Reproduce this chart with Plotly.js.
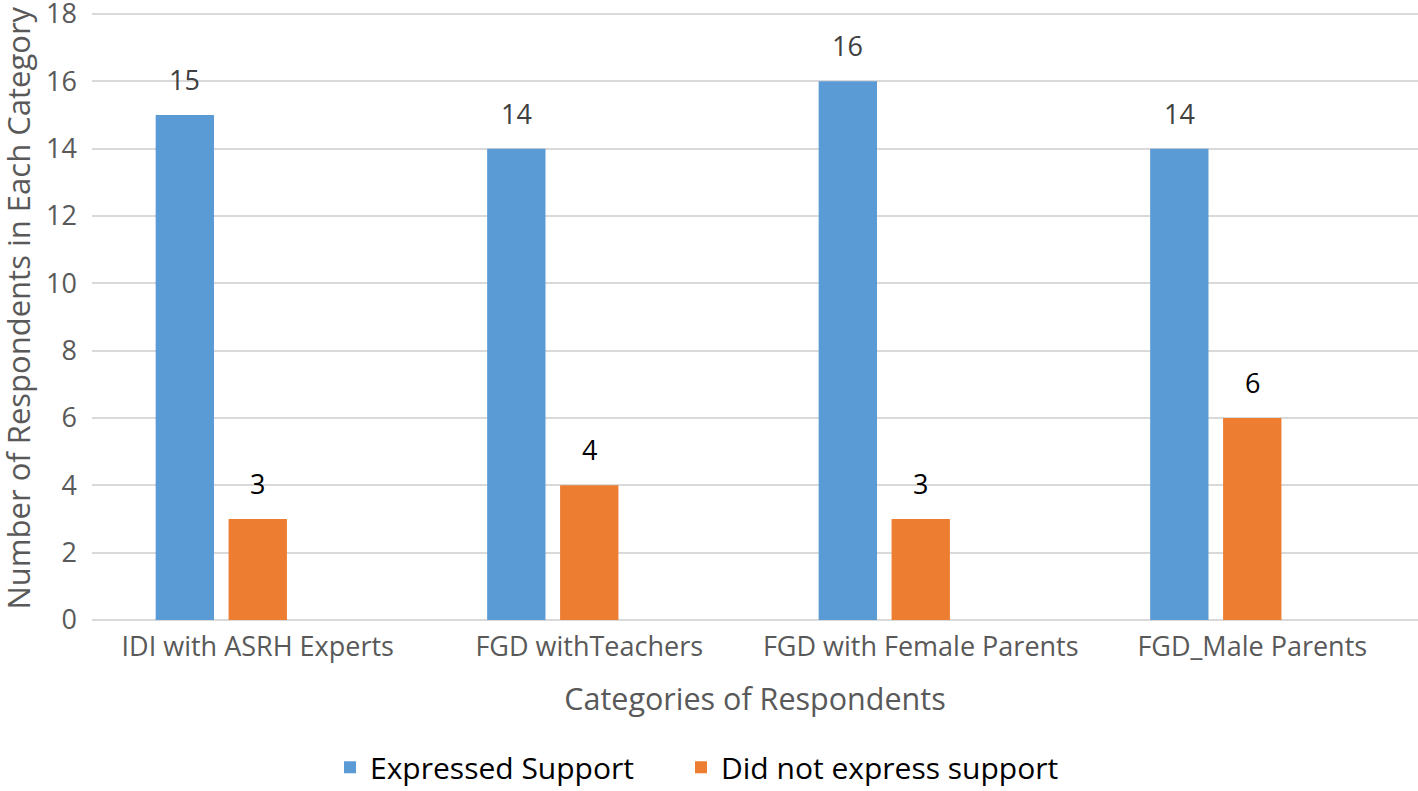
<!DOCTYPE html>
<html>
<head>
<meta charset="utf-8">
<script src="https://cdn.plot.ly/plotly-3.0.1.min.js"></script>
<style>html,body{margin:0;padding:0;background:#fff;}#chart{width:1418px;height:791px;}</style>
</head>
<body>
<div id="chart"></div>
<script>
const categories = ["IDI with ASRH Experts", "FGD withTeachers", "FGD with Female Parents", "FGD_Male Parents"];
const expressedSupport = [15, 14, 16, 14];
const didNotExpress = [3, 4, 3, 6];
const emptySeries = [0, 0, 0, 0];
const yTicks = [0, 2, 4, 6, 8, 10, 12, 14, 16, 18];
const yTitle = "Number of Respondents in Each Category";
const xTitle = "Categories of Respondents";

const FONT = "Open Sans, Noto Sans, sans-serif";
const bargap = 0.34;
const slot = (1 - bargap) / 3;

const traces = [
  {type: "bar", name: "Expressed Support", x: categories, y: expressedSupport,
   marker: {color: "#5B9BD5"}, legend: "legend"},
  {type: "bar", name: "Did not express support", x: categories, y: didNotExpress,
   marker: {color: "#ED7D31"}, legend: "legend2"},
  {type: "bar", name: "", x: categories, y: emptySeries, showlegend: false,
   marker: {color: "rgba(0,0,0,0)"}, hoverinfo: "skip"}
];

const annotations = [];
categories.forEach((c, i) => {
  annotations.push({x: i - slot, y: expressedSupport[i], xref: "x", yref: "y",
    text: String(expressedSupport[i]), showarrow: false, yanchor: "bottom", yshift: 15,
    font: {family: FONT, size: 27, color: "#404040"}});
  annotations.push({x: i, y: didNotExpress[i], xref: "x", yref: "y",
    text: String(didNotExpress[i]), showarrow: false, yanchor: "bottom", yshift: 15,
    font: {family: FONT, size: 27, color: "#000000"}});
});
// y-axis title drawn as rotated text so it can sit at the very left edge like the reference
annotations.push({xref: "paper", yref: "paper", x: -92 / 1326, xanchor: "left", xshift: -6,
  y: 0.5, yanchor: "middle", yshift: 8, textangle: -90, showarrow: false, text: yTitle,
  font: {family: FONT, size: 31, color: "#595959"}});

const legendBase = {orientation: "h", xanchor: "left", yref: "container", y: 0.03, yanchor: "middle",
  font: {family: FONT, size: 30, color: "#000000"}, itemwidth: 30, bgcolor: "rgba(0,0,0,0)"};

const layout = {
  width: 1418, height: 791,
  margin: {l: 92, r: 0, t: 13, b: 171},
  paper_bgcolor: "#ffffff", plot_bgcolor: "#ffffff",
  barmode: "group", bargap: bargap, bargroupgap: 0.2,
  font: {family: FONT, color: "#595959", size: 24},
  xaxis: {
    type: "category",
    tickfont: {family: FONT, size: 27, color: "#595959"},
    ticks: "", showline: false, showgrid: false, ticklabelstandoff: 8,
    title: {text: xTitle, font: {family: FONT, size: 30.5, color: "#595959"}, standoff: 25},
    automargin: false
  },
  yaxis: {
    range: [0, 18.03], tickvals: yTicks, ticktext: yTicks.map(String),
    tickfont: {family: FONT, size: 27, color: "#595959"},
    gridcolor: "#D9D9D9", gridwidth: 2, zeroline: true, zerolinecolor: "#D9D9D9", zerolinewidth: 2,
    showline: false, ticks: "", ticklabelstandoff: 14, ticklabeloverflow: "allow",
    automargin: false
  },
  legend: Object.assign({}, legendBase, {x: (330 - 92) / 1326}),
  legend2: Object.assign({}, legendBase, {x: (681 - 92) / 1326}),
  annotations: annotations,
  showlegend: true
};

Plotly.newPlot("chart", traces, layout, {displayModeBar: false, staticPlot: true});
</script>
</body>
</html>
